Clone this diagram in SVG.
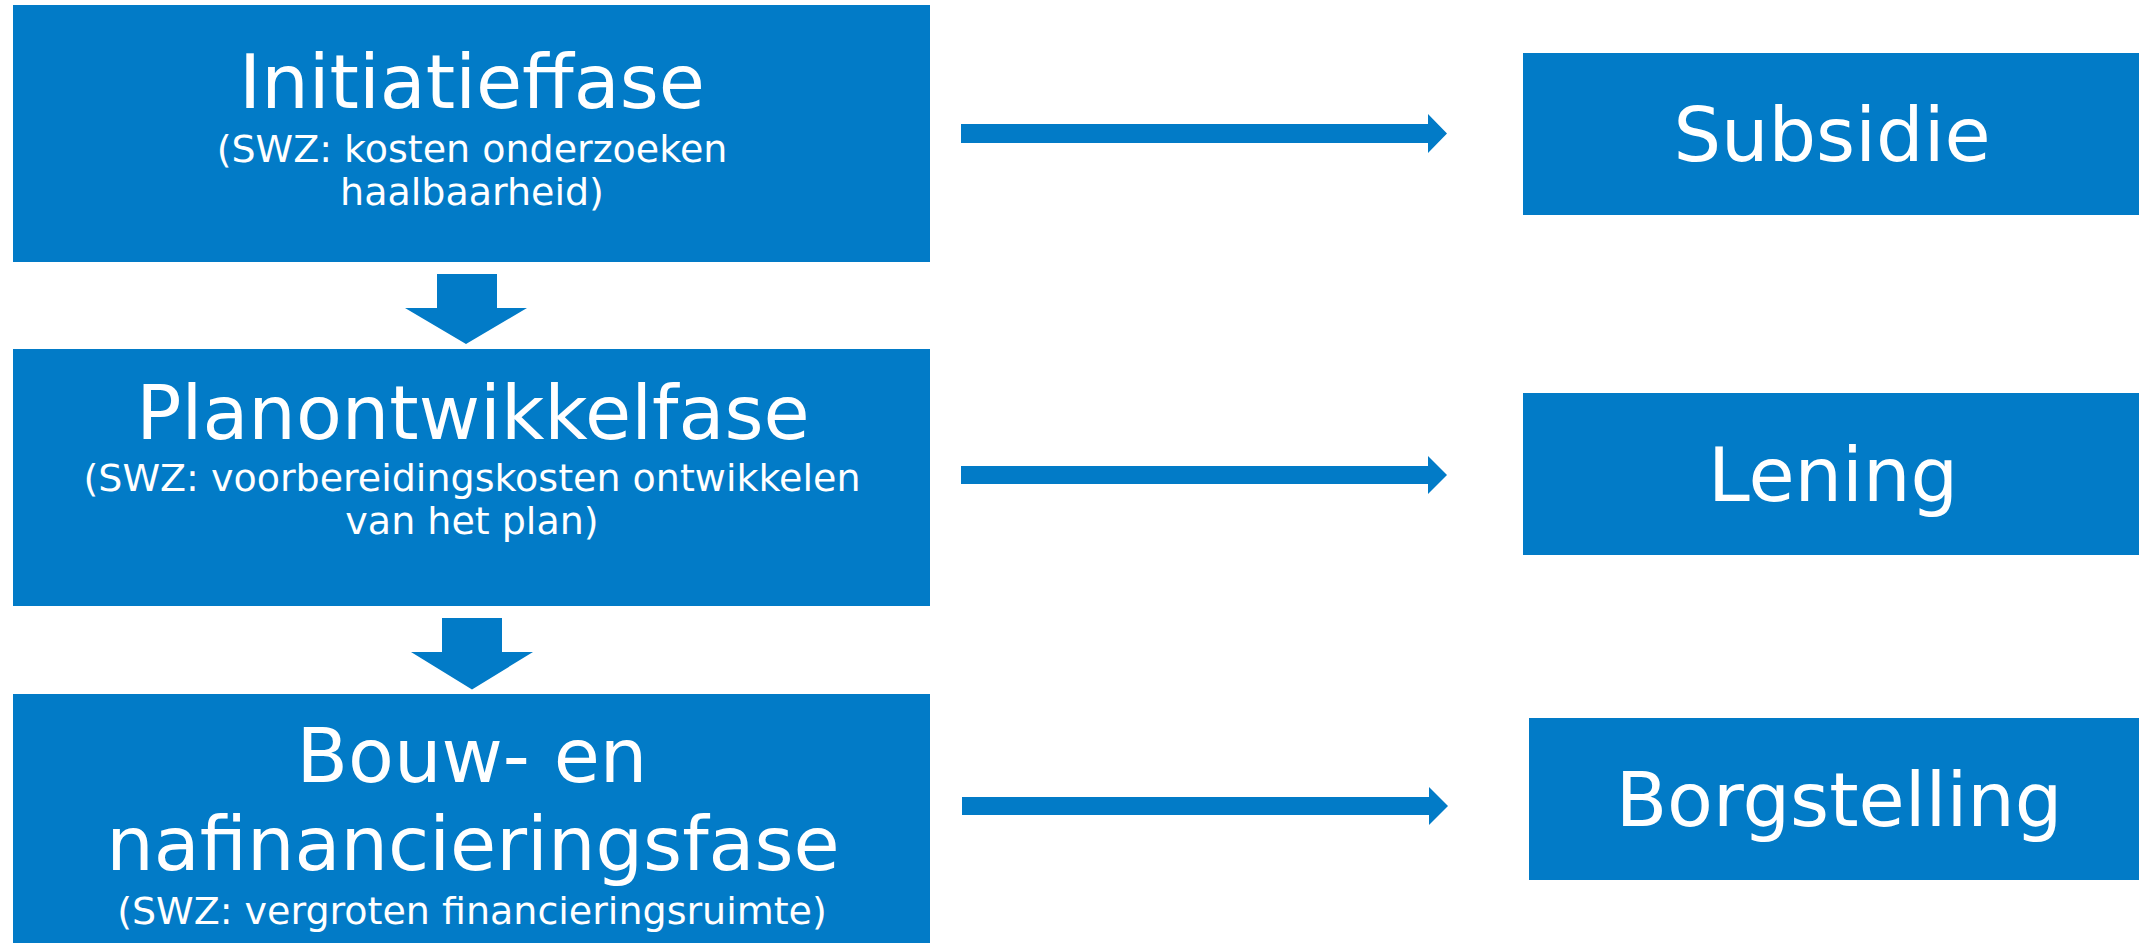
<svg xmlns="http://www.w3.org/2000/svg" width="2139" height="943" viewBox="0 0 2139 943">
<style>
.box{fill:#027BC7}
.arr{fill:#027BC7}
text{fill:#FFFFFF;font-family:"DejaVu Sans","Noto Sans",sans-serif;text-anchor:middle}
.t{font-size:75px}
.s{font-size:38px}
</style>
<rect width="2139" height="943" fill="#FFFFFF"/>
<g id="initiatieffase">
<rect class="box" x="13" y="5" width="917" height="257"/>
<text class="t" x="472" y="108">Initiatieffase</text>
<text class="s" x="472" y="162">(SWZ: kosten onderzoeken</text>
<text class="s" x="472" y="204.5">haalbaarheid)</text>
</g>
<g id="planontwikkelfase">
<rect class="box" x="13" y="349" width="917" height="257"/>
<text class="t" x="473" y="439">Planontwikkelfase</text>
<text class="s" x="472" y="491">(SWZ: voorbereidingskosten ontwikkelen</text>
<text class="s" x="472" y="533.5">van het plan)</text>
</g>
<g id="bouwfase">
<rect class="box" x="13" y="694" width="917" height="260"/>
<text class="t" x="472" y="782">Bouw- en</text>
<text class="t" x="473" y="869.5">nafinancieringsfase</text>
<text class="s" x="472" y="923.5">(SWZ: vergroten financieringsruimte)</text>
</g>
<g id="subsidie">
<rect class="box" x="1523" y="53" width="630" height="162"/>
<text class="t" x="1832" y="161">Subsidie</text>
</g>
<g id="lening">
<rect class="box" x="1523" y="393" width="630" height="162"/>
<text class="t" x="1833" y="501">Lening</text>
</g>
<g id="borgstelling">
<rect class="box" x="1529" y="718" width="630" height="162"/>
<text class="t" x="1839" y="826">Borgstelling</text>
</g>
<g id="connectors">
<polygon class="arr" points="437,274 497,274 497,308 527,308 466,344 405,308 437,308"/>
<polygon class="arr" points="442,618 502,618 502,652 533,652 472,689.5 411,652 442,652"/>
<polygon class="arr" points="961,124 1428,124 1428,114 1447,133.5 1428,153 1428,143 961,143"/>
<polygon class="arr" points="961,466 1428,466 1428,456 1447,475 1428,494 1428,484 961,484"/>
<polygon class="arr" points="962,797 1429,797 1429,787 1448,806 1429,825 1429,815 962,815"/>
</g>
</svg>
